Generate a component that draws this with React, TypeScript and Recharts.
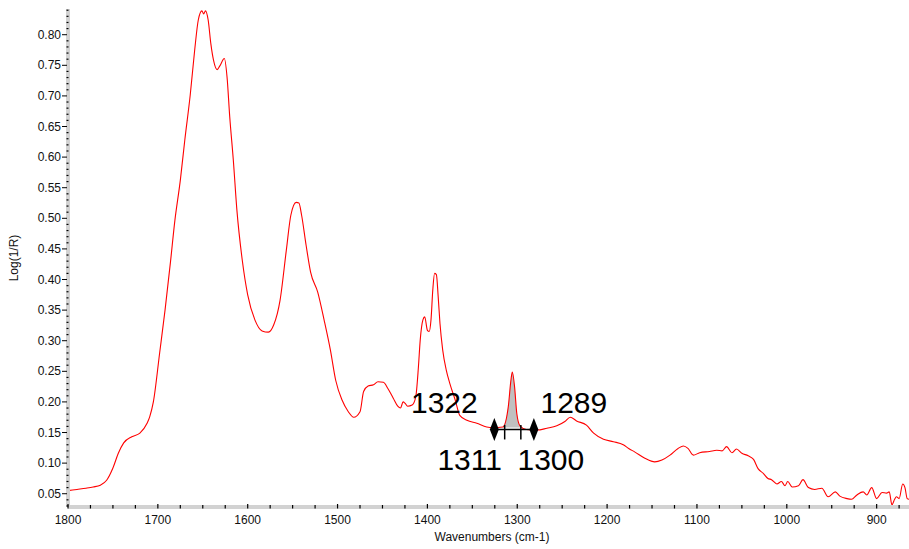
import React from 'react';
import {
  ComposedChart,
  Line,
  Area,
  Scatter,
  XAxis,
  YAxis,
  ReferenceLine
} from 'recharts';

// spectrum: wavenumber (cm-1) and Log(1/R)
const wavenumbers = [
  1800, 1790, 1780, 1772, 1764, 1757, 1750, 1744, 1738, 1729, 1720, 1712, 1709, 1705,
  1698, 1692, 1686, 1681, 1675, 1670, 1664, 1659, 1655, 1651, 1649, 1647, 1644, 1641,
  1638, 1634, 1631, 1626, 1623, 1620, 1616, 1612, 1606, 1600, 1592, 1584, 1577, 1571,
  1564, 1557, 1552, 1546, 1543, 1540, 1535, 1530, 1522, 1515, 1508, 1502, 1495, 1488,
  1482, 1475, 1471, 1466, 1460, 1455, 1449, 1444, 1438, 1433, 1430, 1427, 1425, 1422,
  1417, 1413, 1410, 1408, 1405, 1403, 1400, 1398, 1396, 1394, 1392, 1390, 1388, 1386,
  1383, 1379, 1375, 1369, 1364, 1356, 1345, 1334, 1327, 1316, 1310, 1307, 1305.5, 1303,
  1300.5, 1297, 1290, 1278, 1267, 1256, 1247, 1241, 1234, 1223, 1215, 1204, 1193, 1182,
  1176, 1169, 1158, 1147, 1139, 1130, 1121, 1115, 1110, 1104, 1097, 1086, 1078, 1072,
  1067, 1061, 1056, 1050, 1043, 1037, 1032, 1026, 1021, 1017, 1011, 1006, 1002, 999,
  994, 987, 982, 976, 969, 961, 954, 946, 941, 933, 928, 922, 915, 911,
  905.5, 900, 894, 889, 886, 883, 880, 878, 875, 871, 868.5, 866, 864
];
const absorbance = [
  0.055, 0.057, 0.059, 0.061, 0.064, 0.072, 0.092, 0.116, 0.133, 0.143, 0.149, 0.165, 0.176, 0.2,
  0.28, 0.35, 0.428, 0.497, 0.562, 0.628, 0.701, 0.775, 0.824, 0.839, 0.834, 0.839, 0.824, 0.785,
  0.758, 0.743, 0.749, 0.761, 0.731, 0.666, 0.595, 0.513, 0.431, 0.375, 0.334, 0.316, 0.314, 0.326,
  0.366, 0.448, 0.505, 0.526, 0.525, 0.505, 0.456, 0.412, 0.379, 0.334, 0.285, 0.235, 0.203, 0.184,
  0.175, 0.184, 0.217, 0.226, 0.228, 0.233, 0.232, 0.222, 0.206, 0.193, 0.19, 0.2, 0.198, 0.193,
  0.195, 0.208, 0.257, 0.301, 0.334, 0.339, 0.317, 0.315, 0.334, 0.383, 0.41, 0.408, 0.372, 0.328,
  0.285, 0.252, 0.23, 0.203, 0.178, 0.17, 0.165, 0.159, 0.158, 0.159, 0.192, 0.236, 0.249, 0.225,
  0.181, 0.161, 0.155, 0.154, 0.157, 0.161, 0.168, 0.175, 0.169, 0.162, 0.149, 0.139, 0.135, 0.13,
  0.124, 0.118, 0.108, 0.102, 0.105, 0.113, 0.124, 0.128, 0.124, 0.113, 0.117, 0.119, 0.121, 0.12,
  0.127, 0.117, 0.123, 0.116, 0.112, 0.106, 0.091, 0.083, 0.075, 0.073, 0.066, 0.07, 0.063, 0.07,
  0.061, 0.063, 0.073, 0.06, 0.057, 0.059, 0.045, 0.053, 0.046, 0.042, 0.041, 0.048, 0.053, 0.048,
  0.06, 0.042, 0.052, 0.051, 0.053, 0.032, 0.041, 0.045, 0.042, 0.066, 0.06, 0.042, 0.041
];

// integrated band (shaded) and its markers
const shadeFrom = 1316;
const shadeTo = 1297;
const shadeBase = 0.158;
const markWn = [1325.5, 1314, 1296, 1281.5];
const markVal = [0.155, 0.155, 0.155, 0.155];
const markText = ['1322', '1311', '1300', '1289'];
const markKind = ['diamond', 'tick', 'tick', 'diamond'];

const xMajor = [1800, 1700, 1600, 1500, 1400, 1300, 1200, 1100, 1000, 900];
const yMajor = [0.05, 0.1, 0.15, 0.2, 0.25, 0.3, 0.35, 0.4, 0.45, 0.5, 0.55, 0.6, 0.65, 0.7, 0.75, 0.8];

const xTicks: number[] = [];
for (let w = 1800; w >= 875; w -= 25) xTicks.push(w);
const yTicks: number[] = [];
for (let i = 3; i <= 84; i++) yTicks.push(i / 100);

const spectrum = wavenumbers.map((wn, i) => ({
  wn,
  v: absorbance[i],
  shade: wn <= shadeFrom && wn >= shadeTo ? [shadeBase, absorbance[i]] : null
}));

const marks = markWn.map((wn, i) => ({
  wn,
  val: markVal[i],
  text: markText[i],
  kind: markKind[i]
}));

const FONT = '"Liberation Sans", Arial, sans-serif';
const LABEL_OFFSET = [
  { dx: -50, dy: -16 },
  { dx: -35, dy: 41 },
  { dx: 30, dy: 41 },
  { dx: 40, dy: -16 }
];

const XTick = (props: any) => {
  const { x, y, payload } = props;
  const major = xMajor.includes(payload.value);
  return (
    <g>
      <line x1={x} x2={x} y1={y - (major ? 3 : 2)} y2={y + 1.5} stroke="#000" strokeWidth={1.2} />
      {major && (
        <text x={x} y={y + 16.5} textAnchor="middle" fontSize={12} fontFamily={FONT} fill="#111">
          {payload.value}
        </text>
      )}
    </g>
  );
};

const YTick = (props: any) => {
  const { x, y, payload } = props;
  const major = yMajor.some((m) => Math.abs(m - payload.value) < 1e-6);
  return (
    <g>
      {major ? (
        <line x1={x - 6} x2={x - 1} y1={y} y2={y} stroke="#000" strokeWidth={1} />
      ) : (
        <line x1={x - 1.5} x2={x + 0.5} y1={y} y2={y} stroke="#000" strokeWidth={1.2} />
      )}
      {major && (
        <text x={x - 7} y={y + 4} textAnchor="end" fontSize={12} fontFamily={FONT} fill="#111">
          {payload.value.toFixed(2)}
        </text>
      )}
    </g>
  );
};

const renderMark = (props: any) => {
  const { cx, cy, payload, index } = props;
  const off = LABEL_OFFSET[index] || { dx: 0, dy: 0 };
  return (
    <g>
      {payload.kind === 'diamond' ? (
        <polygon
          points={`${cx},${cy - 11.5} ${cx + 4.5},${cy} ${cx},${cy + 11.5} ${cx - 4.5},${cy}`}
          fill="#000"
        />
      ) : (
        <line x1={cx} x2={cx} y1={cy - 4.5} y2={cy + 10} stroke="#000" strokeWidth={1.5} />
      )}
      <text
        x={cx + off.dx}
        y={cy + off.dy}
        textAnchor="middle"
        fontSize={30}
        fontFamily={FONT}
        fill="#000"
      >
        {payload.text}
      </text>
    </g>
  );
};

export default function App() {
  return (
    <div style={{ position: 'absolute', left: 0, top: 0, width: 909, height: 549, background: '#fff' }}>
      <ComposedChart
        width={909}
        height={549}
        data={spectrum}
        margin={{ top: 9, right: 0, bottom: 0, left: 0 }}
      >
        <XAxis
          dataKey="wn"
          type="number"
          domain={[864, 1800]}
          reversed
          allowDataOverflow
          ticks={xTicks}
          interval={0}
          tick={<XTick />}
          tickLine={false}
          tickSize={0}
          tickMargin={0}
          axisLine={{ stroke: '#d2d2d2', strokeWidth: 4 }}
          height={42}
          label={{
            content: () => (
              <text x={492} y={541} textAnchor="middle" fontSize={12} fontFamily={FONT} fill="#111">
                Wavenumbers (cm-1)
              </text>
            )
          }}
        />
        <YAxis
          type="number"
          domain={[0.0283, 0.842]}
          allowDataOverflow
          ticks={yTicks}
          interval={0}
          tick={<YTick />}
          tickLine={false}
          tickSize={0}
          tickMargin={0}
          axisLine={{ stroke: '#d2d2d2', strokeWidth: 4 }}
          width={68}
          label={{
            content: () => (
              <text
                x={18}
                y={258}
                transform="rotate(-90 18 258)"
                textAnchor="middle"
                fontSize={12}
                fontFamily={FONT}
                fill="#111"
              >
                Log(1/R)
              </text>
            )
          }}
        />
        <Area
          dataKey="shade"
          type="monotone"
          stroke="none"
          fill="#c0c0c0"
          fillOpacity={1}
          isAnimationActive={false}
          connectNulls={false}
        />
        <Line
          dataKey="v"
          stroke="#ff0000"
          strokeWidth={1.1}
          dot={false}
          type="monotone"
          isAnimationActive={false}
        />
        <ReferenceLine
          segment={[
            { x: markWn[0], y: markVal[0] },
            { x: markWn[3], y: markVal[3] }
          ]}
          stroke="#000"
          strokeWidth={1.5}
        />
        <Scatter data={marks} dataKey="val" shape={renderMark} isAnimationActive={false} />
      </ComposedChart>
    </div>
  );
}
